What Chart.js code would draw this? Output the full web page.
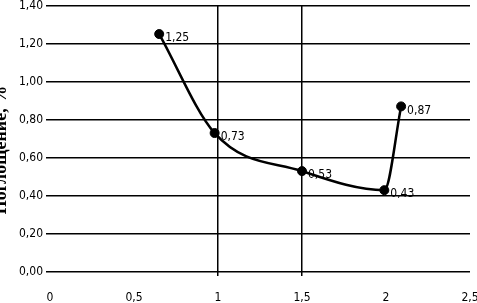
<!DOCTYPE html>
<html lang="ru">
<head>
    <meta charset="UTF-8" />
    <title>Поглощение</title>
    <script src="https://cdn.jsdelivr.net/npm/chart.js"></script>
    <style>
        * { box-sizing: border-box; margin: 0; padding: 0; }
        html, body { width: 477px; height: 303px; background: #fff; overflow: hidden; }
        .chart-box { position: relative; width: 477px; height: 303px; }
    </style>
</head>
<body>
    <div class="chart-box"><canvas id="absorbChart"></canvas></div>

    <script>
        // data
        const xValues = [0.65, 0.98, 1.5, 1.99, 2.09];
        const yValues = [1.25, 0.73, 0.53, 0.43, 0.87];
        const pointLabels = ['1,25', '0,73', '0,53', '0,43', '0,87'];
        const yTitle = 'Поглощение, %';

        const tickFont = { family: '"Liberation Sans Narrow", "DejaVu Sans Condensed", sans-serif', size: 12 };
        const comma = v => String(v).replace('.', ',');

        // value labels next to each point
        const pointLabelPlugin = {
            id: 'pointLabels',
            afterDatasetsDraw(chart) {
                const ctx = chart.ctx;
                const meta = chart.getDatasetMeta(0);
                ctx.save();
                ctx.font = '12px ' + tickFont.family;
                ctx.fillStyle = '#000';
                ctx.textAlign = 'left';
                ctx.textBaseline = 'middle';
                meta.data.forEach((pt, i) => {
                    ctx.fillText(pointLabels[i], pt.x + 6, pt.y + 4);
                });
                ctx.restore();
            }
        };

        // y axis title, placed like the original (partly cut on the left)
        const yTitlePlugin = {
            id: 'yTitle',
            afterDraw(chart) {
                const ctx = chart.ctx;
                ctx.save();
                ctx.translate(1, 150);
                ctx.rotate(-Math.PI / 2);
                ctx.font = 'bold 18px "Liberation Serif", serif';
                ctx.fillStyle = '#000';
                ctx.textAlign = 'center';
                ctx.textBaseline = 'middle';
                ctx.fillText(yTitle, 0, 0);
                ctx.restore();
            }
        };

        new Chart(document.getElementById('absorbChart'), {
            type: 'line',
            data: {
                datasets: [{
                    data: xValues.map((x, i) => ({ x: x, y: yValues[i] })),
                    borderColor: '#000',
                    backgroundColor: '#000',
                    borderWidth: 2.5,
                    pointRadius: 4.5,
                    pointBorderWidth: 1,
                    pointBackgroundColor: '#000',
                    pointBorderColor: '#000',
                    cubicInterpolationMode: 'monotone',
                    fill: false
                }]
            },
            options: {
                responsive: true,
                maintainAspectRatio: false,
                animation: false,
                layout: { padding: { top: 3, right: 7, left: 0, bottom: 0 } },
                plugins: {
                    legend: { display: false },
                    tooltip: { enabled: false }
                },
                scales: {
                    x: {
                        type: 'linear',
                        min: 0,
                        max: 2.5,
                        border: { display: false },
                        grid: {
                            color: c => (c.tick && (c.tick.value === 1 || c.tick.value === 1.5)) ? '#000' : 'rgba(0,0,0,0)',
                            lineWidth: 1.5,
                            tickLength: 4
                        },
                        ticks: {
                            stepSize: 0.5,
                            color: '#000',
                            font: tickFont,
                            padding: 15,
                            maxRotation: 0,
                            callback: v => comma(v)
                        },
                        afterFit: s => { s.height = 31; s.paddingLeft = 0; s.paddingRight = 0; }
                    },
                    y: {
                        min: 0,
                        max: 1.4,
                        border: { display: false },
                        grid: {
                            color: '#000',
                            lineWidth: 1.5,
                            tickLength: 4
                        },
                        ticks: {
                            stepSize: 0.2,
                            color: '#000',
                            font: tickFont,
                            padding: 3,
                            callback: v => v.toFixed(2).replace('.', ',')
                        },
                        afterFit: s => { s.width = 50; s.paddingTop = 0; s.paddingBottom = 0; }
                    }
                }
            },
            plugins: [pointLabelPlugin, yTitlePlugin]
        });
    </script>
</body>
</html>
